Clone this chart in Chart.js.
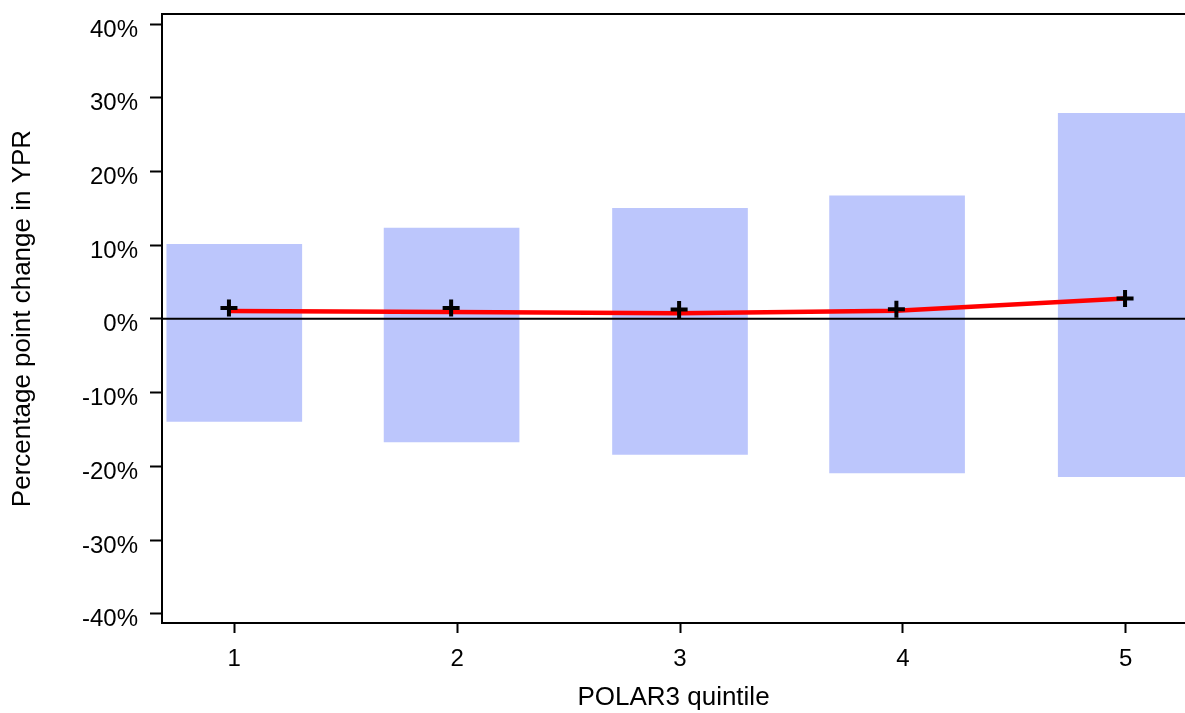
<!DOCTYPE html>
<html>
<head>
<meta charset="utf-8">
<script src="https://cdn.jsdelivr.net/npm/chart.js@4.4.1/dist/chart.umd.min.js"></script>
<style>
  html, body { margin: 0; padding: 0; background: #fff; overflow: hidden; }
  canvas { display: block; }
</style>
</head>
<body>
<canvas id="chart" width="1185" height="713"></canvas>
<script>
// Dados
const quintiles = [1, 2, 3, 4, 5];
const barX = [1.0, 1.975, 3.0, 3.974, 5.0];
const ciLow = [-13.9, -16.7, -18.4, -20.9, -21.4];
const ciHigh = [10.1, 12.3, 15.0, 16.7, 27.9];
const pointX = [0.976, 1.973, 2.996, 3.971, 4.997];
const lineY = [1.07, 0.94, 0.76, 1.1, 2.75];
const markerY = [1.48, 1.48, 1.26, 1.3, 2.75];
const yTicks = [-40, -30, -20, -10, 0, 10, 20, 30, 40];

// Limites dos eixos (o lado direito do gráfico fica cortado)
const X_MIN = 0.6756, X_MAX = 5.266;
const Y_MIN = -41.26, Y_MAX = 41.36;

const FONT = "'Liberation Sans', Arial, sans-serif";

const bars = quintiles.map((q, i) => ({ x: barX[i], y: [ciLow[i], ciHigh[i]] }));
const line = quintiles.map((q, i) => ({ x: pointX[i], y: lineY[i] }));
const markers = quintiles.map((q, i) => ({ x: pointX[i], y: markerY[i] }));
const zeroLine = [{ x: X_MIN, y: 0 }, { x: X_MAX, y: 0 }];

// Borda superior da área do gráfico
const topBorder = {
    id: 'topBorder',
    afterDraw(chart) {
        const { ctx, chartArea } = chart;
        ctx.save();
        ctx.strokeStyle = '#000';
        ctx.lineWidth = 2;
        ctx.beginPath();
        ctx.moveTo(chartArea.left - 1, chartArea.top);
        ctx.lineTo(chartArea.right, chartArea.top);
        ctx.stroke();
        ctx.restore();
    }
};

const noPad = (s) => { s.paddingTop = 0; s.paddingBottom = 0; s.paddingLeft = 0; s.paddingRight = 0; };

const ctx = document.getElementById('chart').getContext('2d');
new Chart(ctx, {
    type: 'line',
    data: {
        datasets: [
            {
                type: 'scatter',
                data: markers,
                pointStyle: 'cross',
                pointRadius: 8.5,
                pointBorderWidth: 4,
                borderColor: '#000',
                backgroundColor: '#000',
                order: 1
            },
            {
                type: 'line',
                data: line,
                borderColor: '#ff0000',
                borderWidth: 4.5,
                pointRadius: 0,
                tension: 0,
                fill: false,
                order: 2
            },
            {
                type: 'line',
                data: zeroLine,
                borderColor: '#000',
                borderWidth: 2,
                pointRadius: 0,
                fill: false,
                order: 3
            },
            {
                type: 'bar',
                data: bars,
                backgroundColor: '#bcc6fc',
                borderWidth: 0,
                barThickness: 135,
                grouped: false,
                order: 4
            }
        ]
    },
    options: {
        responsive: false,
        animation: false,
        layout: { autoPadding: false, padding: { top: 14, right: 0, bottom: 0, left: 0 } },
        plugins: { legend: { display: false }, tooltip: { enabled: false } },
        scales: {
            x: {
                type: 'linear',
                min: X_MIN,
                max: X_MAX,
                offset: false,
                afterBuildTicks: (s) => { s.ticks = quintiles.map(v => ({ value: v })); },
                afterFit: (s) => { s.height = 90; noPad(s); },
                grid: { drawOnChartArea: false, offset: false, tickLength: 10, tickColor: '#000', tickWidth: 2 },
                border: { color: '#000', width: 2 },
                ticks: { color: '#000', padding: 12, font: { family: FONT, size: 24 } },
                title: {
                    display: true,
                    text: 'POLAR3 quintile',
                    color: '#000',
                    font: { family: FONT, size: 26, lineHeight: 1 },
                    padding: { top: 0, bottom: 2 }
                }
            },
            y: {
                type: 'linear',
                min: Y_MIN,
                max: Y_MAX,
                afterBuildTicks: (s) => { s.ticks = yTicks.map(v => ({ value: v })); },
                afterFit: (s) => { s.width = 162; noPad(s); },
                grid: { drawOnChartArea: false, tickLength: 12, tickColor: '#000', tickWidth: 2 },
                border: { color: '#000', width: 2 },
                ticks: {
                    color: '#000',
                    padding: 12,
                    labelOffset: 6,
                    font: { family: FONT, size: 24 },
                    callback: (v) => v + '%'
                },
                title: {
                    display: true,
                    text: 'Percentage point change in YPR',
                    color: '#000',
                    font: { family: FONT, size: 26, lineHeight: 1 },
                    padding: { top: 10, bottom: 0 }
                }
            }
        }
    },
    plugins: [topBorder]
});
</script>
</body>
</html>
